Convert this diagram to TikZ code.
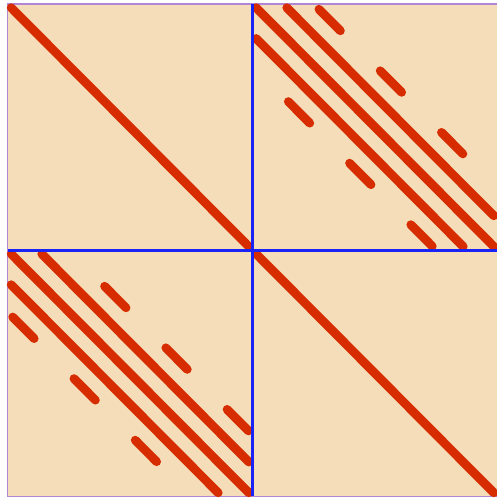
\documentclass[tikz,border=0pt]{standalone}
\definecolor{wheatbg}{RGB}{245,221,185}
\definecolor{spyred}{RGB}{214,44,0}
\definecolor{framepurple}{RGB}{178,134,212}
\definecolor{splitblue}{RGB}{25,35,245}
\tikzset{
  nz/.style={spyred, line width=5pt, line cap=round},
  split/.style={splitblue, line width=1.9pt}
}
\begin{document}
\begin{tikzpicture}[x=0.6125cm, y=-0.6156cm]
  \useasboundingbox (-0.245,-0.13) rectangle (15.984,16.147);
  % background and frame
  \fill[wheatbg] (0,0) rectangle (16,16);
  \draw[framepurple, line width=1pt] (0,0) rectangle (16,16);

  % diagonal blocks
  \draw[nz] (0.12,0.12) -- (7.88,7.88);
  \draw[nz] (8.12,8.12) -- (15.88,15.88);

  % upper right block
  \begin{scope}[shift={(8,0)}]
    \draw[nz] (0.12,0.12) -- (7.88,7.88);
    \draw[nz] (1.12,0.12) -- (7.88,6.88);
    \draw[nz] (0.12,1.12) -- (6.88,7.88);
    \foreach \r/\c in {0/2, 2/4, 4/6, 3/1, 5/3, 7/5}
      \draw[nz] (\c+0.17,\r+0.17) -- (\c+0.87,\r+0.87);
  \end{scope}

  % lower left block (transpose)
  \begin{scope}[shift={(0,8)}]
    \draw[nz] (0.12,0.12) -- (7.88,7.88);
    \draw[nz] (1.12,0.12) -- (7.88,6.88);
    \draw[nz] (0.12,1.12) -- (6.88,7.88);
    \foreach \c/\r in {0/2, 2/4, 4/6, 3/1, 5/3, 7/5}
      \draw[nz] (\c+0.17,\r+0.17) -- (\c+0.87,\r+0.87);
  \end{scope}

  % block partition
  \draw[split] (8,0) -- (8,16);
  \draw[split] (0,8) -- (16,8);
\end{tikzpicture}
\end{document}
